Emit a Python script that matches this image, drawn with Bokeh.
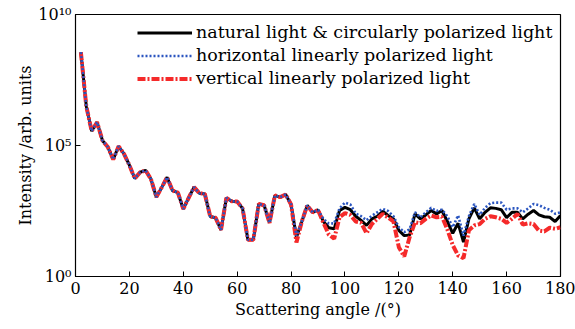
from bokeh.plotting import figure
from bokeh.models import FixedTicker, Legend, LegendItem, Range1d
from bokeh.embed import file_html
from bokeh.resources import INLINE

# Scattering angle (degrees)
angle = [2, 4, 6, 8, 10, 12, 14, 16, 18, 20, 22, 24, 26, 28, 30, 32, 34, 36, 38, 40,
         42, 44, 46, 48, 50, 52, 54, 56, 58, 60, 62, 64, 66, 68, 70, 72, 74, 76, 78, 80,
         82, 84, 86, 88, 90, 92, 94, 96, 98, 100, 102, 104, 106, 108, 110, 112, 114, 116, 118, 120,
         122, 124, 126, 128, 130, 132, 134, 136, 138, 140, 142, 144, 146, 148, 150, 152, 154, 156, 158, 160,
         162, 164, 166, 168, 170, 172, 174, 176, 178, 180]

# log10 of intensity (arb. units)
natural_log = [8.56, 6.5, 5.55, 5.89, 5.19, 4.94, 4.47, 4.97, 4.68, 4.25, 3.74, 3.98, 4.05, 3.72, 3.03, 3.4, 3.79, 3.28, 3.2, 2.58,
               3.0, 3.41, 3.18, 3.15, 2.29, 2.24, 1.78, 3.0, 2.87, 2.86, 2.6, 1.4, 1.4, 2.77, 2.72, 2.05, 3.09, 3.03, 3.13, 2.75,
               1.5, 2.1, 2.71, 2.45, 2.54, 2.1, 1.86, 1.82, 2.52, 2.64, 2.55, 2.3, 2.14, 1.95, 2.2, 2.3, 2.49, 2.33, 2.2, 1.76,
               1.56, 1.58, 2.39, 2.2, 2.35, 2.52, 2.39, 2.52, 2.1, 1.65, 2.03, 1.31, 2.2, 2.62, 2.2, 2.45, 2.62, 2.6, 2.55, 2.25,
               2.45, 2.45, 2.2, 2.38, 2.52, 2.35, 2.28, 2.26, 2.1, 2.33]
horizontal_log = [8.56, 6.5, 5.55, 5.89, 5.19, 4.94, 4.47, 4.97, 4.68, 4.25, 3.74, 3.98, 4.05, 3.72, 3.03, 3.4, 3.79, 3.28, 3.2, 2.58,
                  3.0, 3.41, 3.18, 3.15, 2.29, 2.24, 1.78, 3.0, 2.87, 2.86, 2.6, 1.4, 1.4, 2.77, 2.72, 2.05, 3.09, 3.03, 3.13, 2.75,
                  1.55, 2.1, 2.71, 2.45, 2.54, 2.2, 2.02, 2.03, 2.6, 2.82, 2.75, 2.4, 2.3, 2.15, 2.32, 2.45, 2.58, 2.5, 2.3, 1.88,
                  1.69, 1.8, 2.45, 2.26, 2.45, 2.62, 2.5, 2.55, 2.3, 1.88, 2.33, 1.56, 2.3, 2.77, 2.35, 2.62, 2.8, 2.82, 2.82, 2.55,
                  2.6, 2.6, 2.45, 2.6, 2.77, 2.72, 2.62, 2.55, 2.4, 2.45]
vertical_log = [8.56, 6.5, 5.55, 5.89, 5.19, 4.94, 4.47, 4.97, 4.68, 4.25, 3.74, 3.98, 4.05, 3.72, 3.03, 3.4, 3.79, 3.28, 3.2, 2.58,
                3.0, 3.41, 3.18, 3.15, 2.29, 2.24, 1.78, 3.0, 2.87, 2.86, 2.6, 1.4, 1.4, 2.77, 2.72, 2.05, 3.09, 3.03, 3.13, 2.75,
                1.3, 2.1, 2.71, 2.45, 2.54, 2.05, 1.6, 1.44, 2.26, 2.42, 2.35, 2.1, 2.05, 1.65, 2.0, 2.2, 2.39, 2.25, 2.1, 1.12,
                0.76, 1.5, 2.07, 2.03, 2.2, 2.33, 2.26, 2.28, 1.8, 1.2, 0.8, 0.7, 1.76, 1.95, 2.0, 2.2, 2.3, 2.26, 2.2, 2.05,
                2.2, 2.39, 1.98, 2.03, 2.0, 1.75, 1.72, 1.86, 1.82, 1.88]

y_ticks = [1, 100000, 10000000000]
y_tick_labels = ["10\u2070", "10\u2075", "10\u00b9\u2070"]
x_ticks = [0, 20, 40, 60, 80, 100, 120, 140, 160, 180]

series_labels = ["natural light & circularly polarized light",
                 "horizontal linearly polarized light",
                 "vertical linearly polarized light"]

natural = [10 ** v for v in natural_log]
horizontal = [10 ** v for v in horizontal_log]
vertical = [10 ** v for v in vertical_log]

FONT = "DejaVu Serif"

p = figure(width=575, height=329, y_axis_type="log", output_backend="svg",
           toolbar_location=None, x_range=Range1d(0, 180), y_range=Range1d(1, 1e10),
           min_border_left=75, min_border_right=15, min_border_top=14, min_border_bottom=53)
p.background_fill_color = "white"
p.border_fill_color = "white"
p.outline_line_color = "black"
p.outline_line_width = 1.2
p.grid.visible = False

r_black = p.line(angle, natural, line_color="black", line_width=3)
r_red = p.line(angle, vertical, line_color="#f52a2a", line_width=4, line_dash="8 2 2 2")
r_blue = p.line(angle, horizontal, line_color="#2a55c0", line_width=2.6, line_dash="2 2")

for ax in (p.xaxis[0], p.yaxis[0]):
    ax.major_tick_in = 5
    ax.major_tick_out = 0
    ax.minor_tick_in = 0
    ax.minor_tick_out = 0
    ax.axis_line_color = "black"
    ax.major_label_text_font = FONT
    ax.major_label_text_font_size = "16px"
    ax.major_label_text_color = "black"
    ax.axis_label_text_font = FONT
    ax.axis_label_text_font_size = "16px"
    ax.axis_label_text_font_style = "normal"
    ax.axis_label_text_color = "black"

p.xaxis[0].ticker = FixedTicker(ticks=x_ticks)
p.yaxis[0].ticker = FixedTicker(ticks=y_ticks)
p.yaxis[0].major_label_overrides = {t: l for t, l in zip(y_ticks, y_tick_labels)}
p.xaxis[0].axis_label = "Scattering angle /(\u00b0)"
p.yaxis[0].axis_label = "Intensity /arb. units"
p.xaxis[0].major_label_standoff = 5
p.xaxis[0].axis_label_standoff = 3
p.yaxis[0].major_label_standoff = 4
p.yaxis[0].axis_label_standoff = 0

legend = Legend(items=[LegendItem(label=series_labels[0], renderers=[r_black]),
                       LegendItem(label=series_labels[1], renderers=[r_blue]),
                       LegendItem(label=series_labels[2], renderers=[r_red])],
                location=(62, 188))
legend.border_line_color = None
legend.background_fill_alpha = 0
legend.label_text_font = FONT
legend.label_text_font_size = "17.5px"
legend.label_text_color = "black"
legend.glyph_width = 55
legend.glyph_height = 19
legend.label_height = 19
legend.spacing = 3
legend.label_standoff = 4
legend.margin = 0
legend.padding = 8
p.add_layout(legend)

open("out.html", "w").write(file_html(p, INLINE))
